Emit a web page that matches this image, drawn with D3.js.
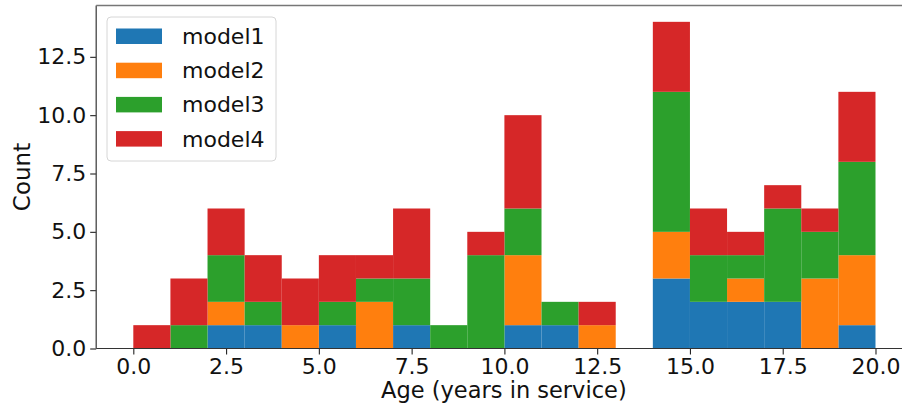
<!DOCTYPE html>
<html>
<head>
<meta charset="utf-8">
<script src="https://cdn.jsdelivr.net/npm/d3@7"></script>
<style>
  html, body { margin: 0; padding: 0; background: #fff; }
  svg { display: block; font-family: "DejaVu Sans", sans-serif; }
</style>
</head>
<body>
<svg id="chart" width="902" height="409"></svg>
<script>
// Histogram bins (left edges, width 1 year)
const binStarts = [0, 1, 2, 3, 4, 5, 6, 7, 8, 9, 10, 11, 12, 13, 14, 15, 16, 17, 18, 19];
const binWidth = 1;

// Counts per bin for each model
const model1 = [0, 0, 1, 1, 0, 1, 0, 1, 0, 0, 1, 1, 0, 0, 3, 2, 2, 2, 0, 1];
const model2 = [0, 0, 1, 0, 1, 0, 2, 0, 0, 0, 3, 0, 1, 0, 2, 0, 1, 0, 3, 3];
const model3 = [0, 1, 2, 1, 0, 1, 1, 2, 1, 4, 2, 1, 0, 0, 6, 2, 1, 4, 2, 4];
const model4 = [1, 2, 2, 2, 2, 2, 1, 3, 0, 1, 4, 0, 1, 0, 3, 2, 1, 1, 1, 3];

const seriesNames = ["model1", "model2", "model3", "model4"];
const seriesColors = ["#1f77b4", "#ff7f0e", "#2ca02c", "#d62728"];

const xTicks = [0, 2.5, 5, 7.5, 10, 12.5, 15, 17.5, 20];
const yTicks = [0, 2.5, 5, 7.5, 10, 12.5];
const xLabel = "Age (years in service)";
const yLabel = "Count";

const rows = binStarts.map((b, i) => ({
  x0: b, x1: b + binWidth,
  model1: model1[i], model2: model2[i], model3: model3[i], model4: model4[i]
}));

const svg = d3.select("#chart");

// Axes extents: padded 5% around the data like the plotting defaults
const x = d3.scaleLinear().domain([-1, 21]).range([96.2, 912.6]);
const maxTotal = d3.max(rows, r => r.model1 + r.model2 + r.model3 + r.model4);
const y = d3.scaleLinear().domain([0, maxTotal * 1.05]).range([348.5, 5.5]);

const stacked = d3.stack().keys(seriesNames)(rows);

const layers = svg.append("g")
  .selectAll("g")
  .data(stacked)
  .join("g")
  .attr("fill", (d, i) => seriesColors[i]);

layers.selectAll("rect")
  .data(d => d.filter(s => s[1] > s[0]))
  .join("rect")
  .attr("x", d => x(d.data.x0))
  .attr("width", d => x(d.data.x1) - x(d.data.x0))
  .attr("y", d => y(d[1]))
  .attr("height", d => y(d[0]) - y(d[1]));

// X axis
const xAxis = svg.append("g")
  .attr("transform", `translate(0,${y(0)})`)
  .call(d3.axisBottom(x).tickValues(xTicks).tickFormat(d3.format(".1f")).tickSize(6).tickPadding(4));

// Y axis
const yAxis = svg.append("g")
  .attr("transform", `translate(${x(-1)},0)`)
  .call(d3.axisLeft(y).tickValues(yTicks).tickFormat(d3.format(".1f")).tickSize(6).tickPadding(4));

[xAxis, yAxis].forEach(g => {
  g.select(".domain").remove();
  g.selectAll(".tick line").attr("stroke", "#222").attr("stroke-width", 1.1);
  g.selectAll(".tick text")
    .attr("font-size", 22)
    .attr("font-family", "DejaVu Sans, sans-serif")
    .attr("fill", "#111");
});

// Spines
const [xl, xr] = x.range();
const [yb, yt] = y.range();
const spines = svg.append("g").attr("fill", "none");
spines.append("line").attr("x1", xl).attr("x2", xl).attr("y1", yb).attr("y2", yt)
  .attr("stroke", "#444").attr("stroke-width", 1.3);
spines.append("line").attr("x1", xl).attr("x2", xr).attr("y1", yb).attr("y2", yb)
  .attr("stroke", "#333").attr("stroke-width", 1.2);
spines.append("line").attr("x1", xl).attr("x2", xr).attr("y1", yt).attr("y2", yt)
  .attr("stroke", "#777").attr("stroke-width", 1.6);

// Axis titles
svg.append("text")
  .attr("x", (x(0) + x(20)) / 2 - 0.5)
  .attr("y", 398)
  .attr("text-anchor", "middle")
  .attr("font-size", 22.5)
  .attr("fill", "#111")
  .text(xLabel);

svg.append("text")
  .attr("transform", `translate(30,${(yb + yt) / 2}) rotate(-90)`)
  .attr("text-anchor", "middle")
  .attr("font-size", 23)
  .attr("fill", "#111")
  .text(yLabel);

// Legend
const legend = svg.append("g").attr("transform", "translate(107,17)");
legend.append("rect")
  .attr("width", 169).attr("height", 144)
  .attr("rx", 4).attr("ry", 4)
  .attr("fill", "#fff").attr("fill-opacity", 0.85)
  .attr("stroke", "#d6d6d6").attr("stroke-width", 1);

const items = legend.selectAll("g.item")
  .data(seriesNames)
  .join("g")
  .attr("class", "item")
  .attr("transform", (d, i) => `translate(0,${19 + i * 34.2})`);

items.append("rect")
  .attr("x", 9).attr("y", -7.5)
  .attr("width", 46).attr("height", 15.5)
  .attr("fill", (d, i) => seriesColors[i]);

items.append("text")
  .attr("x", 75)
  .attr("y", 0)
  .attr("dy", "0.36em")
  .attr("font-size", 22)
  .attr("fill", "#111")
  .text(d => d);
</script>
</body>
</html>
